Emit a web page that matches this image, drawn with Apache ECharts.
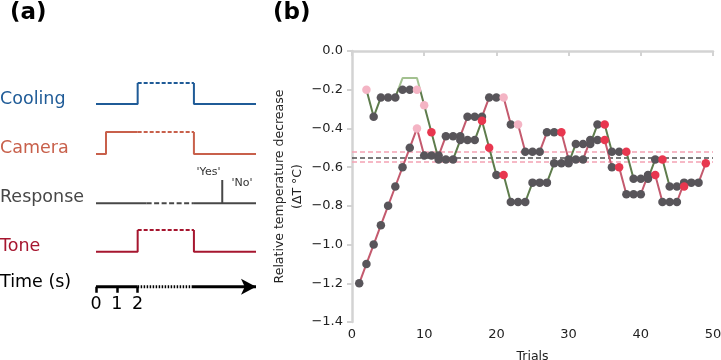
<!DOCTYPE html>
<html>
<head>
<meta charset="utf-8">
<script src="https://cdn.jsdelivr.net/npm/echarts@6/dist/echarts.min.js"></script>
<style>
  html, body { margin: 0; padding: 0; background: #fff; }
  #chart { width: 721px; height: 360px; }
</style>
</head>
<body>
<div id="chart"></div>
<script>
// ---- panel (b): two interleaved staircases ----
var redTrials = [1, 2, 3, 4, 5, 6, 7, 8, 9, 10, 11, 12, 13, 14, 15, 16, 17, 18, 19, 20,
  21, 22, 23, 24, 25, 26, 27, 28, 29, 30, 31, 32, 33, 34, 35, 36, 37, 38, 39, 40,
  41, 42, 43, 44, 45, 46, 47, 48, 49];
var redLevels = [-1.2, -1.1, -1.0, -0.9, -0.8, -0.7, -0.6, -0.5, -0.4,
  -0.54, -0.54, -0.54, -0.44, -0.44, -0.44, -0.34, -0.34, -0.34, -0.24, -0.24,
  -0.24, -0.38, -0.38, -0.52, -0.52, -0.52, -0.42, -0.42, -0.42, -0.56,
  -0.56, -0.56, -0.46, -0.46, -0.46, -0.6, -0.6, -0.74, -0.74, -0.74,
  -0.64, -0.64, -0.78, -0.78, -0.78, -0.68, -0.68, -0.68, -0.58];

var greenTrials = [2, 3, 4, 5, 6, 7, 8, 9, 10, 11, 12, 13, 14, 15, 16, 17, 18, 19, 20, 21,
  22, 23, 24, 25, 26, 27, 28, 29, 30, 31, 32, 33, 34, 35, 36, 37, 38, 39, 40, 41,
  42, 43, 44, 45, 46];
// staircase level (line) and the level actually shown (dots, capped at -0.2)
var greenLevels = [-0.2, -0.34, -0.24, -0.24, -0.24, -0.14, -0.14, -0.14, -0.28, -0.42,
  -0.56, -0.56, -0.56, -0.46, -0.46, -0.46, -0.36, -0.5, -0.64, -0.64,
  -0.78, -0.78, -0.78, -0.68, -0.68, -0.68, -0.58, -0.58, -0.58, -0.48,
  -0.48, -0.48, -0.38, -0.38, -0.52, -0.52, -0.52, -0.66, -0.66, -0.66,
  -0.56, -0.56, -0.7, -0.7, -0.7];
var greenShown = [-0.2, -0.34, -0.24, -0.24, -0.24, -0.2, -0.2, -0.2, -0.28, -0.42,
  -0.56, -0.56, -0.56, -0.46, -0.46, -0.46, -0.36, -0.5, -0.64, -0.64,
  -0.78, -0.78, -0.78, -0.68, -0.68, -0.68, -0.58, -0.58, -0.58, -0.48,
  -0.48, -0.48, -0.38, -0.38, -0.52, -0.52, -0.52, -0.66, -0.66, -0.66,
  -0.56, -0.56, -0.7, -0.7, -0.7];
var levelCap = -0.2;

// dot colouring per trial
var redPinkTrials = [9, 21, 23];
var redHitTrials = [29, 35, 37, 42, 49];
var greenPinkTrials = [2, 9, 10];
var greenHitTrials = [11, 18, 19, 21, 35, 38, 43, 46];

// horizontal reference lines
var pinkRefs = [-0.52, -0.57];
var greyRefs = [-0.545];

// ---- panel (a): trial schematic (time in s, level in schematic units) ----
var rowNames = ['Cooling', 'Camera', 'Response', 'Tone'];
var rowColors = ['#1f5b97', '#c8604b', '#474747', '#a6162f'];
var pulseLow = [182.7, 132.7, 35];      // cooling, camera, tone
var pulseHigh = [203.7, 154.7, 56.7];
var pulseRise = [2, 0.48, 2];
var dashFrom = 2, pulseFall = 4.7, traceEnd = 7.68;
var respLevel = 83.4, respDash = [2.43, 4.7], respAt = 6.06, respTop = 106.7;
var timeSolidTo = 2, timeDotTo = 4.59, timeArrowAt = 7.68;
var timeTicks = [0, 1, 2];

var FONT = '"DejaVu Sans", sans-serif';
var DARK = '#58555a', PINK = '#f4b4c4', HIT = '#e8374f';
var RED_LINE = '#c45a6e', GREEN_LINE = '#5e7c4c', GREEN_LIGHT = '#a3c190';

function dotColor(t, pinks, hits) {
  if (pinks.indexOf(t) >= 0) return PINK;
  if (hits.indexOf(t) >= 0) return HIT;
  return DARK;
}

function pairs(xs, ys) {
  return xs.map(function (x, i) { return [x, ys[i]]; });
}

function dots(xs, ys, pinks, hits) {
  return xs.map(function (x, i) {
    return { value: [x, ys[i]], itemStyle: { color: dotColor(x, pinks, hits), opacity: 1 } };
  });
}

// the part of the green staircase above the cap is drawn lighter
var gTop = Math.max.apply(null, greenLevels), gBot = Math.min.apply(null, greenLevels);
var cut = (gTop - levelCap) / (gTop - gBot);
var greenStroke = new echarts.graphic.LinearGradient(0, 0, 0, 1, [
  { offset: 0, color: GREEN_LIGHT }, { offset: cut, color: GREEN_LIGHT },
  { offset: cut, color: GREEN_LINE }, { offset: 1, color: GREEN_LINE }
]);

function schem(data, color, width, type) {
  return {
    type: 'line', xAxisIndex: 1, yAxisIndex: 1, data: data,
    symbol: 'none', silent: true, clip: false, z: 3,
    lineStyle: { color: color, width: width, type: type || 'solid' }
  };
}

var schemSeries = [];
[0, 1, 3].forEach(function (row, k) {
  var lo = pulseLow[k], hi = pulseHigh[k], c = rowColors[row];
  schemSeries.push(schem([[0, lo], [pulseRise[k], lo], [pulseRise[k], hi], [dashFrom, hi]], c, 2));
  schemSeries.push(schem([[dashFrom, hi], [pulseFall, hi]], c, 2, [4, 2]));
  schemSeries.push(schem([[pulseFall, hi], [pulseFall, lo], [traceEnd, lo]], c, 2));
});
schemSeries.push(schem([[0, respLevel], [respDash[0], respLevel]], rowColors[2], 2));
schemSeries.push(schem([[respDash[0], respLevel], [respDash[1], respLevel]], rowColors[2], 2, [5, 2.5]));
schemSeries.push(schem([[respDash[1], respLevel], [traceEnd, respLevel]], rowColors[2], 2));
schemSeries.push(schem([[respAt, respLevel], [respAt, respTop]], rowColors[2], 2));
schemSeries.push(schem([[0, 0], [timeSolidTo, 0]], '#000', 3));
schemSeries.push(schem([[timeSolidTo, 0], [timeDotTo, 0]], '#000', 3, [1.5, 1.5]));
var arrow = schem([[timeDotTo, 0], {
  value: [timeArrowAt, 0], symbol: 'arrow', symbolSize: [12, 15], symbolRotate: -90,
  itemStyle: { color: '#000' }
}], '#000', 3);
arrow.showSymbol = true;
schemSeries.push(arrow);

var refLines = pinkRefs.map(function (v) {
  return { yAxis: v, lineStyle: { color: '#f4a3b4', width: 1.5, type: [5, 3] } };
}).concat(greyRefs.map(function (v) {
  return { yAxis: v, lineStyle: { color: '#4d4d4d', width: 1.5, type: [5, 3] } };
}));

var labelTexts = rowNames.concat(['Time (s)']);
var labelY = [99, 148, 197.5, 246.5, 282];
var labelColors = rowColors.concat(['#000']);

var graphics = [
  { type: 'text', style: { text: '(a)', x: 10, y: 13, textVerticalAlign: 'middle', font: 'bold 23px ' + FONT, fill: '#000' } },
  { type: 'text', style: { text: '(b)', x: 273, y: 13, textVerticalAlign: 'middle', font: 'bold 23px ' + FONT, fill: '#000' } },
  { type: 'text', style: { text: "'Yes'", x: 208.5, y: 172, textAlign: 'center', textVerticalAlign: 'middle', font: '11px ' + FONT, fill: '#333' } },
  { type: 'text', style: { text: "'No'", x: 242, y: 183, textAlign: 'center', textVerticalAlign: 'middle', font: '11px ' + FONT, fill: '#333' } }
];
labelTexts.forEach(function (t, i) {
  graphics.push({ type: 'text', style: { text: t, x: 0, y: labelY[i], textVerticalAlign: 'middle', font: '17.5px ' + FONT, fill: labelColors[i] } });
});

var chart = echarts.init(document.getElementById('chart'), null, { renderer: 'canvas' });
chart.setOption({
  animation: false,
  backgroundColor: '#fff',
  textStyle: { fontFamily: FONT },
  graphic: graphics,
  grid: [
    { left: 352, right: 8, top: 51, bottom: 38, containLabel: false, outerBoundsMode: 'none' },
    { left: 96, width: 162.5, top: 56.7, bottom: 73.3, containLabel: false, outerBoundsMode: 'none' }
  ],
  xAxis: [
    {
      type: 'value', gridIndex: 0, min: 0, max: 50, interval: 10,
      name: 'Trials', nameLocation: 'middle', nameGap: 28, nameMoveOverlap: false,
      nameTextStyle: { fontSize: 12.5, color: '#222', fontFamily: FONT },
      axisLine: { lineStyle: { color: '#d3d3d3', width: 2.5 } },
      axisTick: { length: 5, lineStyle: { color: '#d3d3d3', width: 2 } },
      axisLabel: { fontSize: 13, color: '#222', margin: 6, fontFamily: FONT },
      splitLine: { show: false }
    },
    {
      type: 'value', gridIndex: 1, min: 0, max: 7.8,
      axisLine: { show: false },
      axisTick: { show: true, customValues: timeTicks, length: 6, lineStyle: { color: '#000', width: 2.5 } },
      axisLabel: { customValues: timeTicks, fontSize: 17.5, color: '#000', margin: 9, fontFamily: FONT },
      splitLine: { show: false }
    }
  ],
  yAxis: [
    {
      type: 'value', gridIndex: 0, min: -1.4, max: 0, interval: 0.2,
      name: 'Relative temperature decrease\n(\u0394T \u00b0C)', nameLocation: 'middle',
      nameGap: 45, nameMoveOverlap: false,
      nameTextStyle: { fontSize: 12.5, color: '#222', lineHeight: 18, fontFamily: FONT },
      axisLine: { show: true, lineStyle: { color: '#d3d3d3', width: 2.5 } },
      axisTick: { show: true, length: 5, lineStyle: { color: '#d3d3d3', width: 2 } },
      axisLabel: {
        fontSize: 13, color: '#222', margin: 9, fontFamily: FONT,
        formatter: function (v) { return (v < 0 ? '\u2212' : '') + Math.abs(v).toFixed(1); }
      },
      splitLine: { show: false }
    },
    { type: 'value', gridIndex: 1, min: 0, max: 230, show: false }
  ],
  series: [
    {
      type: 'line', data: pairs(redTrials, redLevels), symbol: 'none', z: 2,
      lineStyle: { color: RED_LINE, width: 2 },
      markLine: { silent: true, symbol: ['none', 'none'], label: { show: false }, data: refLines, z: 1 }
    },
    {
      type: 'line', data: pairs(greenTrials, greenLevels), symbol: 'none', z: 2,
      lineStyle: { color: greenStroke, width: 2 }
    },
    {
      type: 'scatter', data: dots(redTrials, redLevels, redPinkTrials, redHitTrials),
      symbolSize: 8.5, z: 4
    },
    {
      type: 'scatter', data: dots(greenTrials, greenShown, greenPinkTrials, greenHitTrials),
      symbolSize: 8.5, z: 4
    }
  ].concat(schemSeries)
});
</script>
</body>
</html>
